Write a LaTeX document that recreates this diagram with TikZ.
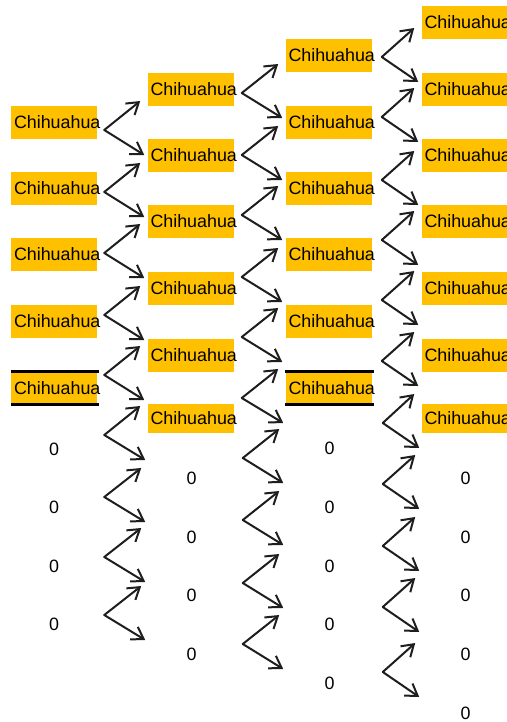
\documentclass[tikz,border=0pt]{standalone}
\usepackage{fontspec}
\setmainfont{Liberation Sans}
\usetikzlibrary{arrows.meta,calc}
\definecolor{gold}{RGB}{255,192,0}
\definecolor{ink}{RGB}{30,30,30}
\newcommand\ch{\makebox[60pt][l]{Chihuahua}}
% fork: source node, apex dx, apex dy (px), upper target, lower target
\newcommand\forkto[5]{%
  \coordinate (ap) at ($(#1.east)+(#2,#3)$);
  \draw[fork] (ap) -- ($(ap -| #4.west)+(-7,-29)$);
  \draw[fork] (ap) -- ($(ap -| #5.west)+(-3,25)$);
}
\begin{document}
\begin{tikzpicture}[
  x=0.75pt, y=-0.75pt,
  lbl/.style={font=\fontsize{13.4}{15}\selectfont, inner ysep=0pt, inner xsep=2.25pt,
              minimum width=64.5pt, minimum height=24.75pt},
  box/.style={lbl, fill=gold},
  shortbox/.style={box, minimum height=21.75pt},
  zero/.style={lbl},
  fork/.style={line width=1.5pt, draw=ink, line cap=round,
               -{Straight Barb[length=8.5pt,width=11pt]}},
  hl/.style={line width=2.25pt, draw=black}
]
\useasboundingbox (0,0) rectangle (507,722);
% column 1
\node[box] (n11) at (54,122) {\ch};
\node[box] (n12) at (54,188) {\ch};
\node[box] (n13) at (54,254) {\ch};
\node[box] (n14) at (54,321) {\ch};
\node[box] (n15) at (54,388) {\ch};
\node[zero] (n16) at (54,449) {0};
\node[zero] (n17) at (54,507) {0};
\node[zero] (n18) at (54,566) {0};
\node[zero] (n19) at (54,624) {0};
% column 2
\node[box] (n21) at (190.5,89) {\ch};
\node[box] (n22) at (190.5,155) {\ch};
\node[box] (n23) at (190.5,221) {\ch};
\node[box] (n24) at (190.5,288) {\ch};
\node[box] (n25) at (190.5,355) {\ch};
\node[shortbox] (n26) at (190.5,418.5) {\ch};
\node[zero] (n27) at (191.5,478) {0};
\node[zero] (n28) at (191.5,537) {0};
\node[zero] (n29) at (191.5,595) {0};
\node[zero] (n2a) at (191.5,654) {0};
% column 3
\node[box] (n31) at (328.5,55) {\ch};
\node[box] (n32) at (328.5,122) {\ch};
\node[box] (n33) at (328.5,188) {\ch};
\node[box] (n34) at (328.5,254) {\ch};
\node[box] (n35) at (328.5,321) {\ch};
\node[box] (n36) at (328.5,388) {\ch};
\node[zero] (n37) at (329.5,448) {0};
\node[zero] (n38) at (329.5,507) {0};
\node[zero] (n39) at (329.5,566) {0};
\node[zero] (n3a) at (329.5,624) {0};
\node[zero] (n3b) at (329.5,683) {0};
% column 4
\node[box] (n41) at (464.5,22) {\ch};
\node[box] (n42) at (464.5,89) {\ch};
\node[box] (n43) at (464.5,155) {\ch};
\node[box] (n44) at (464.5,221) {\ch};
\node[box] (n45) at (464.5,288) {\ch};
\node[box] (n46) at (464.5,355) {\ch};
\node[shortbox] (n47) at (464.5,418.5) {\ch};
\node[zero] (n48) at (465.5,478) {0};
\node[zero] (n49) at (465.5,537) {0};
\node[zero] (n4a) at (465.5,595) {0};
\node[zero] (n4b) at (465.5,654) {0};
\node[zero] (n4c) at (465.5,713) {0};
% highlight bars
\draw[hl] (n15.north west) -- ($(n15.north east)+(2,0)$);
\draw[hl] (n15.south west) -- ($(n15.south east)+(2,0)$);
\draw[hl] (n36.north west) -- ($(n36.north east)+(2,0)$);
\draw[hl] (n36.south west) -- ($(n36.south east)+(2,0)$);
% gap 1
\forkto{n11}{7}{8}{n21}{n22}
\forkto{n12}{7}{4}{n22}{n23}
\forkto{n13}{7}{-1}{n23}{n24}
\forkto{n14}{7}{-6}{n24}{n25}
\forkto{n15}{7}{-13}{n25}{n26}
\forkto{n16}{7}{-14}{n26}{n27}
\forkto{n17}{7}{-10}{n27}{n28}
\forkto{n18}{7}{-9}{n28}{n29}
\forkto{n19}{7}{-9}{n29}{n2a}
% gap 2
\forkto{n21}{8}{4}{n31}{n32}
\forkto{n22}{8}{0}{n32}{n33}
\forkto{n23}{8}{-6}{n33}{n34}
\forkto{n24}{8}{-11}{n34}{n35}
\forkto{n25}{8}{-18}{n35}{n36}
\forkto{n26}{8}{-20.5}{n36}{n37}
\forkto{n27}{8}{-20}{n37}{n38}
\forkto{n28}{8}{-17}{n38}{n39}
\forkto{n29}{8}{-12}{n39}{n3a}
\forkto{n2a}{8}{-10}{n3a}{n3b}
% gap 3
\forkto{n31}{10}{2}{n41}{n42}
\forkto{n32}{10}{-5}{n42}{n43}
\forkto{n33}{10}{-8}{n43}{n44}
\forkto{n34}{10}{-14}{n44}{n45}
\forkto{n35}{10}{-21}{n45}{n46}
\forkto{n36}{10}{-27}{n46}{n47}
\forkto{n37}{10}{-25}{n47}{n48}
\forkto{n38}{10}{-23}{n48}{n49}
\forkto{n39}{10}{-20}{n49}{n4a}
\forkto{n3a}{10}{-17}{n4a}{n4b}
\forkto{n3b}{10}{-11}{n4b}{n4c}
\end{tikzpicture}
\end{document}
